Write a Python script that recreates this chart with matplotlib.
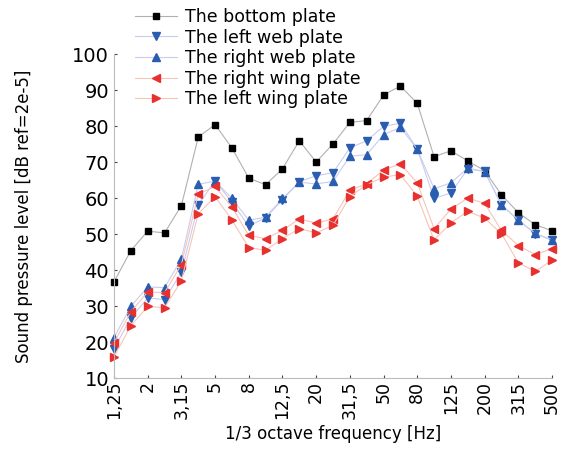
import numpy as np
import matplotlib.pyplot as plt

# 1/3 octave bands
bands = ['1,25', '1,6', '2', '2,5', '3,15', '4', '5', '6,3', '8', '10', '12,5', '16', '20', '25',
         '31,5', '40', '50', '63', '80', '100', '125', '160', '200', '250', '315', '400', '500']

bottom = [36.7, 45.4, 50.8, 50.3, 57.9, 76.9, 80.4, 73.9, 65.5, 63.7, 68.1, 75.9, 70.0, 75.0,
          81.0, 81.5, 88.6, 91.1, 86.3, 71.5, 73.1, 70.3, 67.6, 60.9, 55.9, 52.6, 50.9]
left_web = [18.1, 26.7, 32.2, 31.8, 39.4, 58.1, 64.8, 58.8, 52.2, 54.5, 59.5, 64.5, 66.2, 67.0,
            73.9, 75.9, 79.9, 80.8, 73.6, 59.9, 61.4, 68.1, 67.4, 58.1, 53.8, 50.1, 48.2]
right_web = [21.2, 29.9, 35.3, 35.1, 43.0, 63.8, 64.7, 59.9, 53.8, 54.7, 59.9, 64.4, 63.9, 64.6,
             71.6, 72.0, 77.6, 79.6, 73.6, 62.6, 64.2, 68.3, 67.3, 58.1, 53.9, 50.2, 48.4]
right_wing = [19.8, 28.4, 33.9, 33.7, 41.5, 61.1, 63.2, 57.5, 49.6, 48.7, 51.0, 54.2, 53.0, 54.2,
              62.2, 63.9, 67.8, 69.5, 64.2, 51.5, 56.9, 60.0, 58.5, 51.0, 46.8, 44.3, 45.9]
left_wing = [15.9, 24.5, 29.9, 29.5, 37.0, 55.6, 60.4, 53.9, 46.2, 45.5, 48.7, 51.5, 50.3, 52.4,
             60.4, 63.7, 65.8, 66.5, 60.5, 48.3, 53.1, 56.3, 54.4, 50.1, 42.0, 39.6, 42.7]

x = np.arange(len(bands))

fig = plt.figure(figsize=(5.87, 4.68), dpi=100)
ax = fig.add_axes([114/587, 1-378/468, (552-114)/587, (378-54)/468])

blue = '#2a5db0'
red = '#e8302e'
ms = 4.8
ax.plot(x, bottom, '-', color='#b0b0b0', lw=0.8, marker='s', ms=ms, mfc='black', mec='black',
        label='The bottom plate', clip_on=False)
ax.plot(x, left_web, '-', color='#c8cdf0', lw=0.8, marker='v', ms=ms+0.5, mfc=blue, mec=blue,
        label='The left web plate', clip_on=False)
ax.plot(x, right_web, '-', color='#c8cdf0', lw=0.8, marker='^', ms=ms+0.5, mfc=blue, mec=blue,
        label='The right web plate', clip_on=False)
ax.plot(x, right_wing, '-', color='#f8c4b8', lw=0.8, marker='<', ms=ms+0.5, mfc=red, mec=red,
        label='The right wing plate', clip_on=False)
ax.plot(x, left_wing, '-', color='#f8c4b8', lw=0.8, marker='>', ms=ms+0.5, mfc=red, mec=red,
        label='The left wing plate', clip_on=False)

ax.set_xlim(0, len(bands) - 1)
ax.set_ylim(10, 100)
ax.set_yticks(np.arange(10, 101, 10))
ax.set_xticks(x[::2])
ax.set_xticklabels(bands[::2], rotation=90, fontsize=12.5)
ax.tick_params(axis='y', labelsize=14, direction='in', length=2, color='#444444')
ax.tick_params(axis='x', direction='in', length=2, color='#444444', pad=2)

for s in ['top', 'right']:
    ax.spines[s].set_visible(False)
for s in ['left', 'bottom']:
    ax.spines[s].set_color('#bbbbbb')
    ax.spines[s].set_linewidth(0.8)

ax.set_ylabel('Sound pressure level [dB ref=2e-5]', fontsize=12, labelpad=28)
ax.set_xlabel('1/3 octave frequency [Hz]', fontsize=12, labelpad=4)

fig.legend(loc='upper left', bbox_to_anchor=(128/587, 1 - 1/468), frameon=False,
           fontsize=12.5, handlelength=2.4, handletextpad=0.5, labelspacing=0.15,
           borderaxespad=0)

fig.savefig('out.png', dpi=100)
